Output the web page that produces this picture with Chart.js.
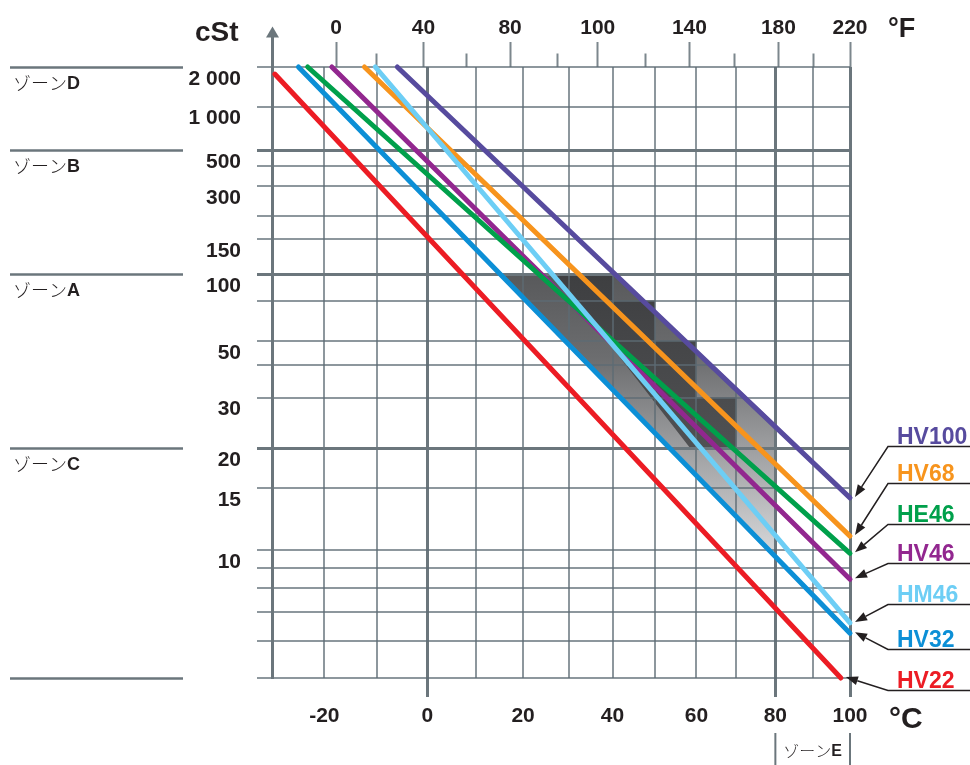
<!DOCTYPE html>
<html>
<head>
<meta charset="utf-8">
<script src="https://cdn.jsdelivr.net/npm/chart.js@4.4.1/dist/chart.umd.min.js"></script>
<style>
  html, body { margin: 0; padding: 0; background: #ffffff; }
  #wrap { width: 970px; height: 765px; position: relative; }
</style>
</head>
<body>
<div id="wrap"><canvas id="c"></canvas></div>
<script>
// ---------------- data ----------------
const seriesNames = ['HV100', 'HV68', 'HE46', 'HV46', 'HM46', 'HV32', 'HV22'];
// each oil is a straight line on the chart: start (°C, cSt) -> end (°C, cSt)
const startTempC = [-6.0, -12.4, -23.1, -18.6, -10.3, -24.8, -29.1];
const startVisc  = [2000, 2000, 2000, 2000, 2000, 2000, 1760];
const endTempC   = [100, 100, 100, 100, 100, 100, 97.5];
const endVisc    = [14.0, 10.9, 9.8, 8.4, 6.6, 6.25, 5.0];

// temperature axis (°C)
const tempGrid   = [-20, -10, 0, 10, 20, 30, 40, 50, 60, 70, 80, 90, 100];
const tempLabels = [-20, 0, 20, 40, 60, 80, 100];
const tempThick  = [0, 80, 100];
// °F scale along the top: tick positions (read in °C) and their labels
const fahrTickPosC   = [-17.8, -10.0, -0.8, 7.9, 17.2, 27.6, 36.6, 47.8, 58.3, 69.5, 80.8, 90.1, 100];
const fahrTickLabels = ['0', '', '40', '', '80', '', '100', '', '140', '', '180', '', '220'];

// viscosity axis (cSt)
const viscGrid        = [5, 6, 7, 8, 9, 10, 15, 20, 30, 40, 50, 75, 100, 150, 200, 300, 400, 500, 1000, 2000];
const viscLabelValues = [10, 15, 20, 30, 50, 100, 150, 300, 500, 1000, 2000];
const viscLabelTexts  = ['10', '15', '20', '30', '50', '100', '150', '300', '500', '1 000', '2 000'];
const viscThick       = [20, 100, 500];

// zones
const zoneBounds = [2000, 500, 100, 20, 5];
const zoneNames  = ['D', 'B', 'A', 'C'];
const zoneEFrom = 80, zoneETo = 100;

// shaded recommended band (°C, cSt)
const bandTempC = [15.5, 40.9, 80, 80];
const bandVisc  = [100, 100, 24.2, 9.8];
const coreTempC = [27, 40, 40, 50, 50, 60, 60, 70, 70, 58.5];
const coreVisc  = [100, 100, 75, 75, 50, 50, 30, 30, 20, 20];

// ---------------- styles / layout ----------------
const lineColors = ['#574b9e', '#f7941d', '#00a04b', '#92278f', '#6dcef5', '#0c8fd6', '#ec1c24'];
const legendUnderlineY = [446, 483, 524, 563, 604, 649, 690];
const THICK = '#6b767c';
const THIN = 'rgba(92,107,115,0.7)';
const TXT = '#231f20';
const FONT = "'Liberation Sans', Arial, Helvetica, sans-serif";
const JFONT = "'Noto Sans CJK JP', 'Noto Sans CJK SC', sans-serif";

// Walther viscosity transform and absolute temperature
const W = v => Math.log10(Math.log10(v + 0.7));
const K = c => c + 273.15;

const datasets = seriesNames.map((n, i) => ({
  label: n,
  data: [{ x: K(startTempC[i]), y: W(startVisc[i]) }, { x: K(endTempC[i]), y: W(endVisc[i]) }],
  borderColor: lineColors[i],
  backgroundColor: lineColors[i],
  borderWidth: 5,
  borderCapStyle: 'round',
  pointRadius: 0,
  pointHoverRadius: 0,
  fill: false,
  tension: 0,
  clip: false,
  order: n === 'HM46' ? 0 : 1
}));

function tempAt(ctx) { return ctx && ctx.tick ? Math.round(ctx.tick.value - 273.15) : null; }
function viscAt(ctx) { return ctx && ctx.index != null ? viscGrid[ctx.index] : null; }

function drawZoneLabel(ctx, letter, x, y, size) {
  ctx.textBaseline = 'middle';
  ctx.textAlign = 'left';
  ctx.font = `300 ${size}px ${JFONT}`;
  ctx.fillStyle = TXT;
  const s = 'ゾーン';
  ctx.fillText(s, x, y);
  const w = ctx.measureText(s).width;
  ctx.font = `bold ${size}px ${FONT}`;
  ctx.fillText(letter, x + w, y + 1);
}

const decor = {
  id: 'decor',
  beforeDraw(chart) {
    const { ctx, scales: { x, y } } = chart;
    const px = c => x.getPixelForValue(K(c));
    const py = v => y.getPixelForValue(W(v));
    ctx.save();
    // outer band
    ctx.beginPath();
    bandTempC.forEach((c, i) => { const X = px(c), Y = py(bandVisc[i]); i ? ctx.lineTo(X, Y) : ctx.moveTo(X, Y); });
    ctx.closePath();
    const yTop = py(100), yBot = py(Math.min(...bandVisc));
    const g = ctx.createLinearGradient(0, yTop, 0, yBot);
    g.addColorStop(0, '#58595b');
    g.addColorStop(0.3, '#6c6d6f');
    g.addColorStop(0.6, '#9a9b9d');
    g.addColorStop(1, '#d6d7d9');
    ctx.fillStyle = g;
    ctx.fill();
    // dark core
    ctx.beginPath();
    coreTempC.forEach((c, i) => { const X = px(c), Y = py(coreVisc[i]); i ? ctx.lineTo(X, Y) : ctx.moveTo(X, Y); });
    ctx.closePath();
    const g2 = ctx.createLinearGradient(0, py(100), 0, py(20));
    g2.addColorStop(0, '#3e3f41');
    g2.addColorStop(1, '#505153');
    ctx.fillStyle = g2;
    ctx.fill();
    ctx.restore();
  },
  afterDraw(chart) {
    const { ctx, chartArea: ca, scales: { x, y } } = chart;
    const px = c => x.getPixelForValue(K(c));
    const py = v => y.getPixelForValue(W(v));
    ctx.save();
    // y axis extension + arrow
    ctx.strokeStyle = THICK; ctx.fillStyle = THICK; ctx.lineWidth = 3;
    ctx.beginPath(); ctx.moveTo(ca.left + 0.5, ca.top); ctx.lineTo(ca.left + 0.5, 36); ctx.stroke();
    ctx.beginPath();
    ctx.moveTo(ca.left + 0.5, 26.5); ctx.lineTo(ca.left + 7, 37.5); ctx.lineTo(ca.left - 6, 37.5);
    ctx.closePath(); ctx.fill();

    // zone lines and labels on the left
    ctx.lineWidth = 2.5;
    zoneBounds.forEach(v => {
      const Y = Math.round(py(v)) + 0.5;
      ctx.beginPath(); ctx.moveTo(10, Y); ctx.lineTo(183, Y); ctx.stroke();
    });
    zoneNames.forEach((n, i) => drawZoneLabel(ctx, n, 13, py(zoneBounds[i]) + 16, 18));

    // zone E bracket
    const xa = px(zoneEFrom), xb = px(zoneETo);
    ctx.strokeStyle = THICK; ctx.lineWidth = 2;
    [xa, xb].forEach(X => { ctx.beginPath(); ctx.moveTo(X, 733); ctx.lineTo(X, 765); ctx.stroke(); });
    ctx.font = `300 16px ${JFONT}`;
    const wj = ctx.measureText('ゾーン').width;
    ctx.font = `bold 16px ${FONT}`;
    const we = ctx.measureText('E').width;
    const sx = (xa + xb) / 2 - (wj + we) / 2;
    ctx.textBaseline = 'middle'; ctx.textAlign = 'left'; ctx.fillStyle = TXT;
    ctx.font = `300 16px ${JFONT}`; ctx.fillText('ゾーン', sx, 751);
    ctx.font = `bold 16px ${FONT}`; ctx.fillText('E', sx + wj, 752);

    // unit titles
    ctx.fillStyle = TXT; ctx.textBaseline = 'alphabetic'; ctx.textAlign = 'left';
    ctx.font = `bold 28px ${FONT}`; ctx.fillText('cSt', 195, 40.5);
    ctx.font = `bold 27px ${FONT}`; ctx.fillText('°F', 888, 37);
    ctx.font = `bold 30px ${FONT}`; ctx.fillText('°C', 889, 728);

    // legend with leader arrows
    seriesNames.forEach((n, i) => {
      const pt = chart.getDatasetMeta(i).data[1];
      const tipX = pt.x + 5, tipY = pt.y - 1;
      const uy = legendUnderlineY[i] + 0.5;
      const sx0 = 888;
      const ang = Math.atan2(tipY - uy, tipX - sx0);
      const L = 12, H = 4.5;
      const bx = tipX - L * Math.cos(ang), by = tipY - L * Math.sin(ang);
      ctx.strokeStyle = TXT; ctx.fillStyle = TXT; ctx.lineWidth = 1.5;
      ctx.beginPath(); ctx.moveTo(970, uy); ctx.lineTo(sx0, uy); ctx.lineTo(bx, by); ctx.stroke();
      ctx.beginPath();
      ctx.moveTo(tipX, tipY);
      ctx.lineTo(bx + H * Math.sin(ang), by - H * Math.cos(ang));
      ctx.lineTo(bx - H * Math.sin(ang), by + H * Math.cos(ang));
      ctx.closePath(); ctx.fill();
      ctx.fillStyle = lineColors[i];
      ctx.font = `bold 23px ${FONT}`;
      ctx.fillText(n, 897, uy - 3);
    });
    ctx.restore();
  }
};

const tickFont = { family: FONT, size: 21, weight: 'bold' };

new Chart(document.getElementById('c'), {
  type: 'line',
  data: { datasets },
  options: {
    responsive: true,
    maintainAspectRatio: false,
    animation: false,
    events: [],
    layout: { padding: { left: 0, right: 120, top: 0, bottom: 0 } },
    plugins: { legend: { display: false }, tooltip: { enabled: false } },
    scales: {
      x: {
        type: 'logarithmic', position: 'bottom',
        min: K(-29.6), max: K(100), bounds: 'data',
        afterBuildTicks: s => { s.ticks = tempGrid.map(c => ({ value: K(c) })); },
        afterFit: s => { s.height = 87; },
        ticks: {
          autoSkip: false, maxRotation: 0, minRotation: 0, padding: 7,
          color: TXT, font: tickFont,
          callback: (v, i) => tempLabels.includes(tempGrid[i]) ? String(tempGrid[i]) : ''
        },
        grid: {
          color: c => tempThick.includes(tempAt(c)) ? THICK : THIN,
          lineWidth: c => tempThick.includes(tempAt(c)) ? 3 : 2,
          drawTicks: true, tickLength: 19, tickWidth: 3,
          tickColor: c => tempThick.includes(tempAt(c)) ? THICK : 'rgba(0,0,0,0)'
        },
        border: { display: false }
      },
      x2: {
        type: 'logarithmic', position: 'top', axis: 'x',
        min: K(-29.6), max: K(100), bounds: 'data',
        afterBuildTicks: s => { s.ticks = fahrTickPosC.map(c => ({ value: K(c) })); },
        afterFit: s => { s.height = 67; },
        ticks: {
          autoSkip: false, maxRotation: 0, minRotation: 0, padding: 1,
          color: TXT, font: tickFont,
          callback: (v, i) => fahrTickLabels[i]
        },
        grid: {
          drawOnChartArea: false, drawTicks: true, tickLength: 25, tickWidth: 2,
          tickColor: '#7c878d',
          tickBorderDash: c => (c && fahrTickLabels[c.index]) ? [] : [0, 11.5, 13.5, 60]
        },
        border: { display: false }
      },
      y: {
        type: 'linear', position: 'left',
        min: W(5), max: W(2000), bounds: 'data',
        afterBuildTicks: s => { s.ticks = viscGrid.map(v => ({ value: W(v) })); },
        afterFit: s => { s.width = 272; },
        ticks: {
          autoSkip: false, padding: 16, labelOffset: 12,
          color: TXT, font: tickFont,
          callback: (v, i) => { const k = viscLabelValues.indexOf(viscGrid[i]); return k >= 0 ? viscLabelTexts[k] : ''; }
        },
        grid: {
          color: c => viscThick.includes(viscAt(c)) ? THICK : THIN,
          lineWidth: c => viscThick.includes(viscAt(c)) ? 3 : 2,
          drawTicks: true, tickLength: 15,
          tickColor: c => viscThick.includes(viscAt(c)) ? THICK : THIN,
          tickWidth: c => viscThick.includes(viscAt(c)) ? 3 : 2
        },
        border: { display: true, color: THICK, width: 3 }
      }
    }
  },
  plugins: [decor]
});
</script>
</body>
</html>
